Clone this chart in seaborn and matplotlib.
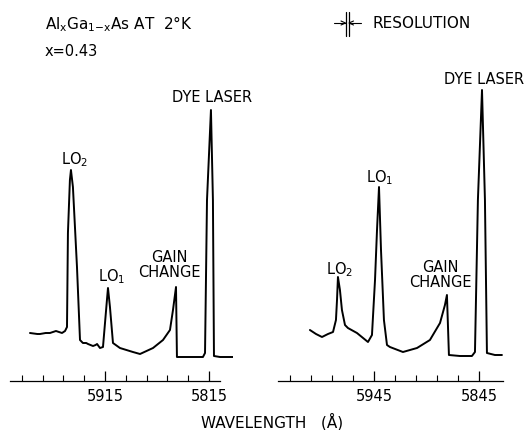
import matplotlib
matplotlib.use("Agg")
import matplotlib.pyplot as plt
import seaborn as sns
import pandas as pd
from matplotlib.ticker import FixedLocator, NullLocator

# ---- data (wavelength in Angstrom, intensity in arbitrary units) ----
left_wl = [5987.1, 5980.0, 5977.5, 5972.0, 5967.9, 5962.1, 5956.3, 5953.4, 5951.5, 5950.6, 5948.7, 5947.7,
           5945.8, 5941.9, 5939.0, 5936.2, 5933.0, 5931.3, 5926.5, 5924.0, 5922.6, 5919.8, 5916.9, 5913.1,
           5912.1, 5910.2, 5907.3, 5900.6, 5888.1, 5881.3, 5868.8, 5859.2, 5852.5, 5849.6,
           5846.7, 5845.8, 5833.3, 5820.8, 5818.8, 5816.9, 5813.1, 5811.2, 5810.2, 5804.4, 5791.9]
left_int = [48, 47, 47, 48, 48, 50, 48, 50, 54, 148, 201, 211,
            194, 114, 41, 38, 38, 37, 35, 36, 37, 33, 34, 81,
            93, 74, 38, 33, 29, 27, 33, 41, 51, 71,
            94, 24, 24, 24, 28, 181, 271, 181, 25, 24, 24]

right_wl = [6006.0, 6000.2, 5994.5, 5988.8, 5984.0, 5981.2, 5980.2, 5979.3, 5977.4, 5975.5,
            5972.6, 5969.8, 5961.2, 5950.7, 5946.9, 5944.0, 5942.1, 5940.2, 5938.3, 5935.5,
            5932.6, 5929.8, 5917.4, 5904.0, 5891.7, 5882.1, 5877.4, 5875.5, 5873.6, 5863.1,
            5851.7, 5848.8, 5846.0, 5842.1, 5839.3, 5837.4, 5829.8, 5823.1]
right_int = [51, 47, 44, 47, 49, 61, 81, 104, 91, 71,
             56, 53, 48, 39, 46, 101, 151, 194, 131, 61,
             36, 34, 29, 33, 41, 58, 76, 86, 26, 25,
             25, 29, 181, 291, 181, 28, 26, 26]

left_major = [5915, 5815]
left_minor = [5995, 5975, 5955, 5935, 5895, 5875, 5855, 5835]
right_major = [5945, 5845]
right_minor = [6025, 6005, 5985, 5965, 5925, 5905, 5885, 5865]
left_labels = ["5915", "5815"]
right_labels = ["5945", "5845"]

left_peaks = [("LO$_2$", 5944.0, 221), ("LO$_1$", 5908.3, 104), ("GAIN\nCHANGE", 5853.5, 116), ("DYE LASER", 5812.1, 283)]
right_peaks = [("LO$_2$", 5977.4, 111), ("LO$_1$", 5939.3, 203), ("GAIN\nCHANGE", 5882.1, 106), ("DYE LASER", 5840.0, 302)]

# ---- figure ----
sns.set_style("white", {"axes.edgecolor": "black", "text.color": "black",
                        "xtick.color": "black"})
plt.rcParams["font.family"] = ["DejaVu Sans"]
plt.rcParams["text.color"] = "black"
W, H = 528, 430
fig = plt.figure(figsize=(W / 100, H / 100), dpi=100)


def fx(x):
    return x / W


def fy(y):
    return 1 - y / H


AX_Y = 381  # pixel row of axis line


def make_ax(x0, x1, xlim, spine_bounds, wl, inten, major, labels, minor, peaks):
    ax = fig.add_axes([fx(x0), fy(AX_Y), (x1 - x0) / W, AX_Y / H])
    df = pd.DataFrame({"wl": wl, "I": inten})
    sns.lineplot(data=df, x="wl", y="I", ax=ax, color="black", lw=1.4,
                 sort=False, estimator=None)
    ax.set_xlim(*xlim)
    ax.set_ylim(0, AX_Y)
    for s in ["left", "right", "top"]:
        ax.spines[s].set_visible(False)
    ax.spines["bottom"].set_bounds(*spine_bounds)
    ax.spines["bottom"].set_linewidth(0.9)
    ax.spines["bottom"].set_color("black")
    ax.xaxis.set_major_locator(FixedLocator(major))
    ax.set_xticklabels(labels)
    ax.xaxis.set_minor_locator(FixedLocator(minor))
    ax.yaxis.set_major_locator(NullLocator())
    ax.tick_params(axis="x", which="major", direction="in", length=7, width=0.9,
                   labelsize=10.5, pad=6, bottom=True, colors="black")
    ax.tick_params(axis="x", which="minor", direction="in", length=4, width=0.8,
                   bottom=True, colors="black")
    ax.set_xlabel("")
    ax.set_ylabel("")
    ax.patch.set_alpha(0)
    for txt, x, y in peaks:
        ax.text(x, y, txt, ha="center", va="center", fontsize=10.5, linespacing=1.0,
                color="black")
    return ax


ax1 = make_ax(10, 233, (6006.3, 5791.9), (6006.3, 5804.4), left_wl, left_int,
              left_major, left_labels, left_minor, left_peaks)
ax2 = make_ax(278, 503, (6036.4, 5822.1), (6036.4, 5822.1), right_wl, right_int,
              right_major, right_labels, right_minor, right_peaks)

# title texts
fig.text(fx(45), fy(29), "Al$_\\mathregular{x}$Ga$_\\mathregular{1{-}x}$As AT  2°K",
         ha="left", va="baseline", fontsize=11, color="black")
fig.text(fx(45), fy(56), "x=0.43", ha="left", va="baseline", fontsize=10.5, color="black")

# resolution marker
k = dict(color="black", lw=0.9)
fig.add_artist(plt.Line2D([fx(345.7), fx(345.7)], [fy(12), fy(36)], **k))
fig.add_artist(plt.Line2D([fx(348.7), fx(348.7)], [fy(12), fy(36)], **k))
fig.add_artist(plt.Line2D([fx(334), fx(345.7)], [fy(23), fy(23)], color="black", lw=0.8))
fig.add_artist(plt.Line2D([fx(348.7), fx(361)], [fy(23), fy(23)], color="black", lw=0.8))
fig.add_artist(plt.Line2D([fx(341), fx(345.5), fx(341)], [fy(21), fy(23), fy(25)], color="black", lw=0.8))
fig.add_artist(plt.Line2D([fx(353.5), fx(349), fx(353.5)], [fy(21), fy(23), fy(25)], color="black", lw=0.8))
fig.text(fx(372), fy(23), "RESOLUTION", ha="left", va="center", fontsize=11, color="black")

fig.text(fx(272), fy(422), "WAVELENGTH   (Å)", ha="center", va="center", fontsize=11, color="black")

fig.savefig("out.png", dpi=100, facecolor="white")
